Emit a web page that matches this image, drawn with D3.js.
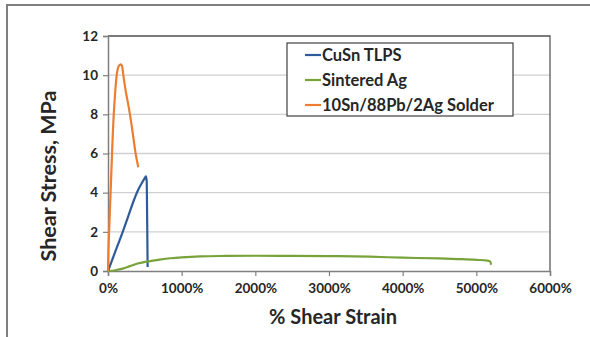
<!DOCTYPE html>
<html>
<head>
<meta charset="utf-8">
<script src="https://cdn.jsdelivr.net/npm/d3@7"></script>
<style>
  body { margin: 0; background: #fff; }
  svg text { font-family: Lato, "Open Sans", sans-serif; font-weight: bold; fill: #262626; }
</style>
</head>
<body>
<div id="chart"></div>
<script>
// strain (%) vs shear stress (MPa)
const seriesNames = ['CuSn TLPS', 'Sintered Ag', '10Sn/88Pb/2Ag Solder'];
const seriesColors = ['#2f5b9a', '#77a33a', '#ed7d31'];

const cuSn = [[0, 0], [100, 1], [200, 2], [280, 2.85], [350, 3.6], [410, 4.15], [460, 4.5], [495, 4.72],
  [515, 4.83], [525, 4.6], [532, 2.5], [538, 0.2]];
const sinteredAg = [[0, 0], [100, 0.04], [200, 0.12], [300, 0.25], [400, 0.38], [525, 0.48], [700, 0.58],
  [850, 0.65], [1000, 0.7], [1250, 0.75], [1600, 0.77], [2000, 0.78], [2500, 0.77], [3000, 0.76],
  [3550, 0.73], [4000, 0.68], [4500, 0.64], [4750, 0.61], [5000, 0.57], [5150, 0.53], [5190, 0.48], [5200, 0.32]];
const solder = [[0, 0], [5, 1], [15, 2], [25, 3], [35, 4], [45, 5], [55, 6], [65, 7], [78, 8], [95, 9],
  [118, 10], [145, 10.45], [172, 10.55], [190, 10.48], [208, 10], [240, 9.2], [270, 8.6], [298, 8],
  [330, 7.2], [375, 6], [395, 5.6], [411, 5.3]];

const xTicks = [0, 1000, 2000, 3000, 4000, 5000, 6000];
const yTicks = [0, 2, 4, 6, 8, 10, 12];

const width = 590, height = 337;
const margin = { top: 36, right: 40, bottom: 66, left: 108 };
const w = width - margin.left - margin.right;
const h = height - margin.top - margin.bottom;

const svg = d3.select('#chart').append('svg')
  .attr('width', width)
  .attr('height', height);

// outer frame (only top and left visible)
svg.append('path')
  .attr('d', 'M7,337V5H590')
  .attr('fill', 'none')
  .attr('stroke', '#7f7f7f')
  .attr('stroke-width', 2);

const x = d3.scaleLinear().domain([0, 6000]).range([0, w]);
const y = d3.scaleLinear().domain([0, 12]).range([h, 0]);

const chart = svg.append('g')
  .attr('transform', `translate(${margin.left}, ${margin.top})`);

// gridlines
chart.append('g')
  .selectAll('line')
  .data(yTicks.slice(1))
  .enter().append('line')
  .attr('x1', 0).attr('x2', w)
  .attr('y1', d => y(d)).attr('y2', d => y(d))
  .attr('stroke', '#d0d0d0')
  .attr('stroke-width', 1.3);

// plot border top/right
chart.append('path')
  .attr('d', `M0,0H${w}V${h}`)
  .attr('fill', 'none')
  .attr('stroke', '#5a5a5a')
  .attr('stroke-width', 1.3);

// axes
const xAxis = chart.append('g')
  .attr('transform', `translate(0, ${h})`)
  .call(d3.axisBottom(x).tickValues(xTicks).tickSize(5).tickFormat(d => d + '%'));
const yAxis = chart.append('g')
  .call(d3.axisLeft(y).tickValues(yTicks).tickSize(5));

[xAxis, yAxis].forEach(a => {
  a.select('.domain').attr('stroke', '#7f7f7f').attr('stroke-width', 1.5);
  a.selectAll('.tick line').attr('stroke', '#7f7f7f').attr('stroke-width', 1.2);
  a.selectAll('.tick text').style('font-size', '13.5px').attr('fill', '#262626');
});
xAxis.selectAll('.tick text').attr('dy', '1.05em');
yAxis.selectAll('.tick text').attr('x', -10);

// lines
const line = d3.line()
  .x(d => x(d[0]))
  .y(d => y(d[1]))
  .curve(d3.curveMonotoneX);

const data = [cuSn, sinteredAg, solder];
data.forEach((s, i) => {
  chart.append('path')
    .datum(s)
    .attr('d', line)
    .attr('fill', 'none')
    .attr('stroke', seriesColors[i])
    .attr('stroke-width', 2.2)
    .attr('stroke-linejoin', 'round');
});

// legend
const legend = svg.append('g').attr('transform', 'translate(287, 43)');
legend.append('rect')
  .attr('width', 226).attr('height', 73)
  .attr('fill', '#fff')
  .attr('stroke', '#404040')
  .attr('stroke-width', 1.2);
seriesNames.forEach((n, i) => {
  const gy = 12 + i * 25;
  legend.append('line')
    .attr('x1', 18).attr('x2', 34)
    .attr('y1', gy).attr('y2', gy)
    .attr('stroke', seriesColors[i])
    .attr('stroke-width', 2.2);
  legend.append('text')
    .attr('x', 35).attr('y', gy)
    .attr('dy', '0.36em')
    .style('font-size', '16.5px')
    .text(n);
});

// axis titles
svg.append('text')
  .attr('x', 333).attr('y', 324)
  .attr('text-anchor', 'middle')
  .style('font-size', '20px')
  .text('% Shear Strain');

svg.append('text')
  .attr('transform', 'translate(56, 176) rotate(-90)')
  .attr('text-anchor', 'middle')
  .style('font-size', '21.5px')
  .text('Shear Stress, MPa');
</script>
</body>
</html>
